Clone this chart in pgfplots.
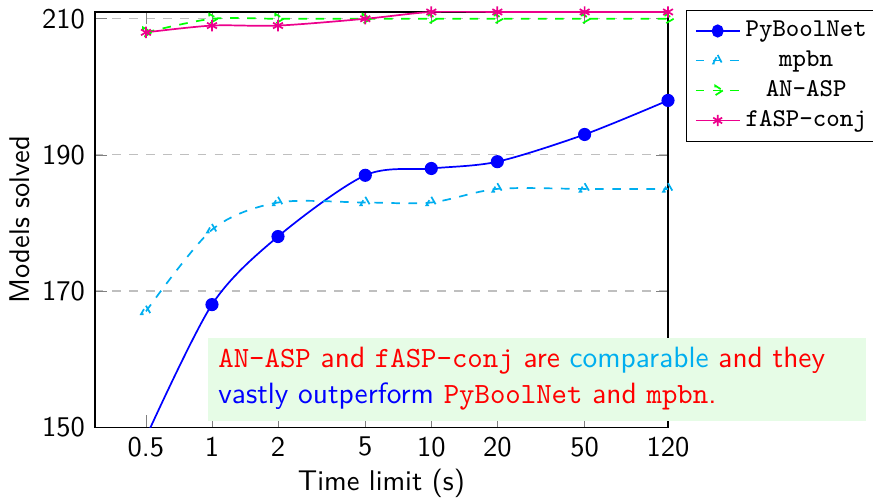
\documentclass[border=0pt]{standalone}
\usepackage{pgfplots}
\pgfplotsset{compat=1.18}
\usetikzlibrary{calc}
\definecolor{pbnblue}{RGB}{0,0,255}
\definecolor{mpbncyan}{RGB}{0,174,239}
\definecolor{aspgreen}{RGB}{0,255,0}
\definecolor{faspmag}{RGB}{236,0,140}
\definecolor{boxgreen}{RGB}{230,252,230}

\begin{document}
\begin{tikzpicture}[font=\sffamily]
  \begin{axis}[name=ax, scale only axis, width=201pt, height=145.6pt,
    xmode=log, xmin=0.2927, xmax=120, ymin=150, ymax=211,
    xtick={0.5,1,2,5,10,20,50,120}, xticklabels={0.5,1,2,5,10,20,50,120},
    xminorticks=false,
    ytick={150,170,190,210},
    /pgf/number format/assume math mode=true,
    ymajorgrids, grid style={dashed, gray!50},
    xlabel={Time limit (s)}, ylabel={Models solved},
    xlabel style={yshift=2.6pt}, ylabel style={yshift=-2.6pt},
    legend cell align=center,
    legend style={at={(1.031,1.005)}, anchor=north west, font=\small,
      nodes={inner ysep=1.7pt, inner xsep=1.8pt}},
    legend image post style={xscale=0.9},
    ]
    \addplot[color=pbnblue, semithick, smooth, mark=*] coordinates {
      (0.5,148.5) (1,168) (2,178) (5,187) (10,188) (20,189) (50,193) (120,198) };
    \addlegendentry{\texttt{PyBoolNet}}
    \addplot[color=mpbncyan, semithick, dashed, smooth, mark=triangle] coordinates {
      (0.5,167) (1,179) (2,183) (5,183) (10,183) (20,185) (50,185) (120,185) };
    \addlegendentry{\texttt{mpbn}}
    \addplot[color=aspgreen, semithick, dashed, smooth, mark=triangle, mark options={rotate=-90}] coordinates {
      (0.5,208) (1,210) (2,210) (5,210) (10,210) (20,210) (50,210) (120,210) };
    \addlegendentry{\texttt{AN-ASP}}
    \addplot[color=faspmag, semithick, smooth, mark=asterisk] coordinates {
      (0.5,208) (1,209) (2,209) (5,210) (10,211) (20,211) (50,211) (120,211) };
    \addlegendentry{\texttt{fASP-conj}}
  \end{axis}
  \node[anchor=south west, fill=boxgreen, inner xsep=3.5pt, inner ysep=3pt,
    text width=223.5pt, align=left, minimum height=29.1pt,
    font=\fontsize{10.3}{12.6}\selectfont\sffamily]
    at ([xshift=39.6pt,yshift=2.1pt]ax.south west)
    {\color{red}\texttt{AN-ASP} and \texttt{fASP-conj} are {\color{mpbncyan}comparable} and they
     {\color{blue}vastly outperform} \texttt{PyBoolNet} and \texttt{mpbn}.};
  \pgfresetboundingbox
  \path[use as bounding box] ([xshift=-33.3pt,yshift=-24.9pt]ax.south west) rectangle ([xshift=71.9pt,yshift=4.2pt]ax.north east);
\end{tikzpicture}
\end{document}
